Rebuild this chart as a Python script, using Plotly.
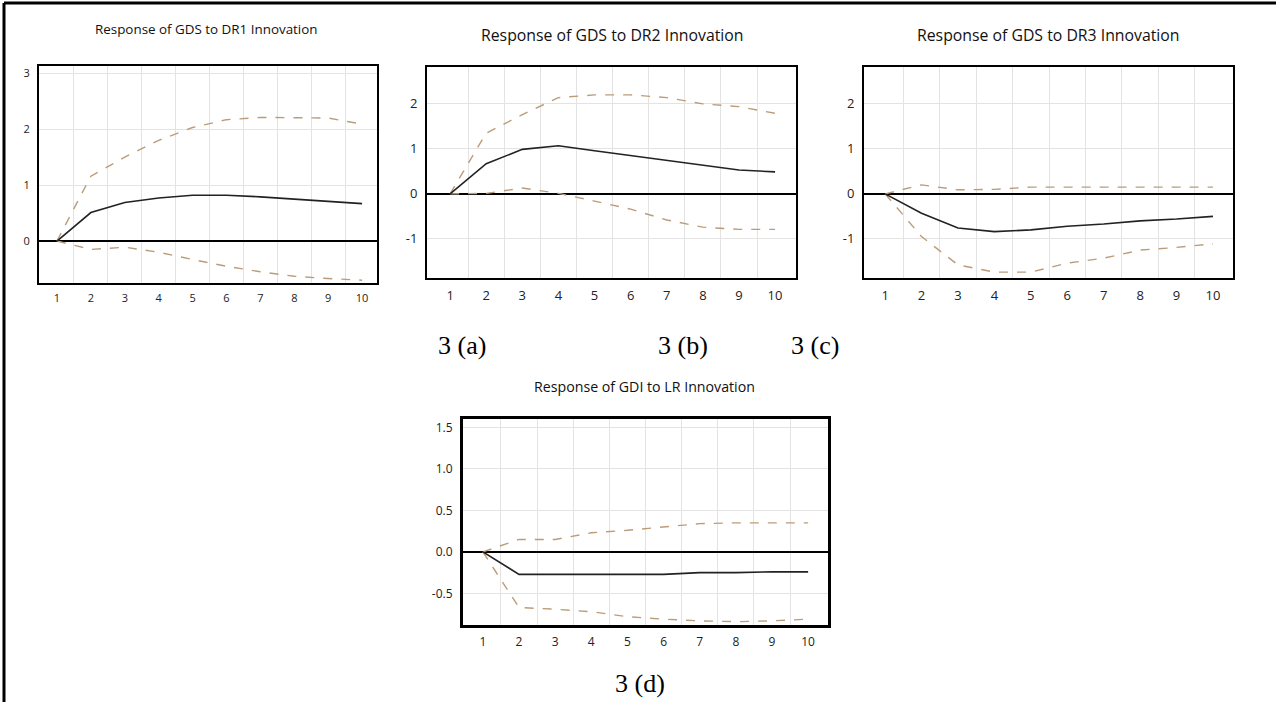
import plotly.graph_objects as go

periods = [1, 2, 3, 4, 5, 6, 7, 8, 9, 10]

# 3 (a) Response of GDS to DR1 Innovation
a_resp = [0.0, 0.51, 0.69, 0.77, 0.82, 0.82, 0.79, 0.75, 0.70, 0.67]
a_upper = [0.0, 1.16, 1.50, 1.80, 2.03, 2.17, 2.21, 2.21, 2.20, 2.09]
a_lower = [0.0, -0.15, -0.11, -0.20, -0.33, -0.45, -0.55, -0.63, -0.67, -0.70]

# 3 (b) Response of GDS to DR2 Innovation
b_resp = [0.0, 0.67, 0.99, 1.07, 0.96, 0.85, 0.74, 0.63, 0.53, 0.49]
b_upper = [0.0, 1.35, 1.76, 2.14, 2.20, 2.20, 2.14, 2.00, 1.94, 1.79]
b_lower = [0.0, 0.01, 0.13, 0.01, -0.16, -0.34, -0.58, -0.74, -0.79, -0.79]

# 3 (c) Response of GDS to DR3 Innovation
c_resp = [0.0, -0.43, -0.76, -0.84, -0.80, -0.72, -0.67, -0.60, -0.56, -0.50]
c_upper = [0.0, 0.20, 0.09, 0.10, 0.15, 0.15, 0.15, 0.15, 0.15, 0.15]
c_lower = [0.0, -0.95, -1.58, -1.74, -1.74, -1.54, -1.43, -1.25, -1.19, -1.11]

# 3 (d) Response of GDI to LR Innovation
d_resp = [0.0, -0.27, -0.27, -0.27, -0.27, -0.27, -0.25, -0.25, -0.24, -0.24]
d_upper = [0.0, 0.15, 0.15, 0.23, 0.26, 0.30, 0.34, 0.35, 0.35, 0.35]
d_lower = [0.0, -0.67, -0.69, -0.72, -0.78, -0.81, -0.83, -0.84, -0.83, -0.81]

titles = ["Response of GDS to DR1 Innovation", "Response of GDS to DR2 Innovation",
          "Response of GDS to DR3 Innovation", "Response of GDI to LR Innovation"]
captions = ["3 (a)", "3 (b)", "3 (c)", "3 (d)"]

a_yticks = [0, 1, 2, 3]
b_yticks = [-1, 0, 1, 2]
c_yticks = [-1, 0, 1, 2]
d_yticks = [-0.5, 0.0, 0.5, 1.0, 1.5]
d_yticktext = ["-0.5", "0.0", "0.5", "1.0", "1.5"]

W, H = 1276, 702

panels = [
    dict(px=(39, 377, 66, 283), xr=[0.47, 10.44], yr=[-0.75, 3.13], data=(a_resp, a_upper, a_lower),
         yt=a_yticks, ytt=[str(v) for v in a_yticks], tf=13.4, kf=11, bw=2),
    dict(px=(427, 796, 67, 278), xr=[0.36, 10.58], yr=[-1.87, 2.82], data=(b_resp, b_upper, b_lower),
         yt=b_yticks, ytt=[str(v) for v in b_yticks], tf=15.8, kf=13, bw=2),
    dict(px=(864, 1233, 67, 278), xr=[0.42, 10.55], yr=[-1.87, 2.82], data=(c_resp, c_upper, c_lower),
         yt=c_yticks, ytt=[str(v) for v in c_yticks], tf=15.8, kf=13, bw=2),
    dict(px=(463, 828, 419, 625), xr=[0.45, 10.55], yr=[-0.88, 1.6], data=(d_resp, d_upper, d_lower),
         yt=d_yticks, ytt=d_yticktext, tf=14.2, kf=12, bw=3),
]
title_pos = [(206, 29), (612, 35), (1048, 35), (644, 386)]
caption_pos = [(462, 346), (683, 346), (815, 346), (640, 683)]

band_color = "#bb9c7a"
resp_color = "#222222"
grid_color = "#e3e3e3"

fig = go.Figure()
layout = dict(width=W, height=H, margin=dict(l=0, r=0, t=0, b=0),
              paper_bgcolor="white", plot_bgcolor="white", showlegend=False)
annotations = []

for i, p in enumerate(panels):
    n = "" if i == 0 else str(i + 1)
    l, r, t, b = p["px"]
    resp, up, lo = p["data"]
    for ys, col, dash, w in ((up, band_color, "dash", 1.4), (lo, band_color, "dash", 1.4), (resp, resp_color, "solid", 1.6)):
        fig.add_trace(go.Scatter(x=periods, y=ys, mode="lines", xaxis="x" + n, yaxis="y" + n,
                                 line=dict(color=col, dash=dash, width=w), hoverinfo="skip"))
    layout["xaxis" + n] = dict(domain=[l / W, r / W], anchor="y" + n, range=p["xr"],
                               tickmode="array", tickvals=periods, ticktext=[str(v) for v in periods],
                               showgrid=False, zeroline=False,
                               showline=True, mirror=True, linecolor="black", linewidth=p["bw"],
                               ticks="outside", ticklen=4, tickcolor="white",
                               tickfont=dict(family="Open Sans", size=p["kf"], color="#222222"),
                               minor=dict(tickmode="array", tickvals=[k + 0.5 for k in periods[:-1]],
                                          showgrid=True, gridcolor=grid_color, gridwidth=1, ticks=""))
    layout["yaxis" + n] = dict(domain=[1 - b / H, 1 - t / H], anchor="x" + n, range=p["yr"],
                               tickmode="array", tickvals=p["yt"], ticktext=p["ytt"],
                               showgrid=True, gridcolor=grid_color, gridwidth=1,
                               zeroline=True, zerolinecolor="black", zerolinewidth=2,
                               showline=True, mirror=True, linecolor="black", linewidth=p["bw"],
                               ticks="outside", ticklen=5, tickcolor="white",
                               tickfont=dict(family="Open Sans", size=p["kf"], color="#222222"))
    tx, ty = title_pos[i]
    annotations.append(dict(text=titles[i], x=tx / W, y=1 - ty / H, xref="paper", yref="paper",
                            showarrow=False, xanchor="center", yanchor="middle",
                            font=dict(family="Open Sans", size=p["tf"], color="#111111")))
    cx, cy = caption_pos[i]
    annotations.append(dict(text=captions[i], x=cx / W, y=1 - cy / H, xref="paper", yref="paper",
                            showarrow=False, xanchor="center", yanchor="middle",
                            font=dict(family="Liberation Serif", size=26, color="black")))

layout["annotations"] = annotations
layout["shapes"] = [
    dict(type="line", xref="paper", yref="paper", x0=4 / W, x1=1, y0=1 - 3 / H, y1=1 - 3 / H,
         line=dict(color="black", width=3)),
    dict(type="line", xref="paper", yref="paper", x0=4 / W, x1=4 / W, y0=0, y1=1 - 3 / H,
         line=dict(color="black", width=3)),
]
fig.update_layout(**layout)
fig.write_html("out.html", config={"displayModeBar": False},
               post_script="document.body.style.margin='0';document.body.style.overflow='hidden';")
